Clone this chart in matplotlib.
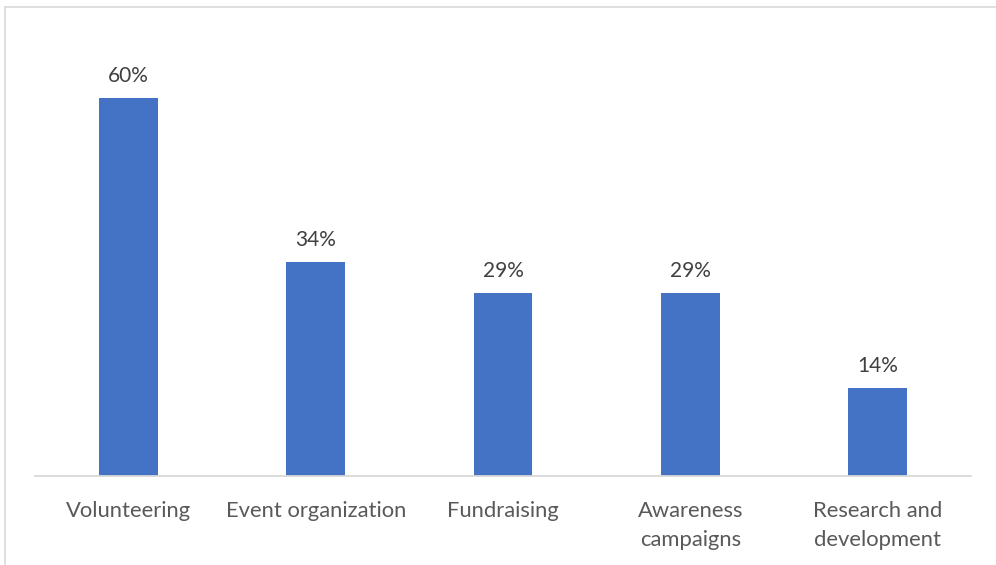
import matplotlib
matplotlib.use('Agg')
import matplotlib.pyplot as plt
from matplotlib.lines import Line2D

categories = ['Volunteering', 'Event organization', 'Fundraising', 'Awareness\ncampaigns', 'Research and\ndevelopment']
shares = [60, 34, 29, 29, 14]
value_labels = ['60%', '34%', '29%', '29%', '14%']

plt.rcParams['font.family'] = ['Lato', 'DejaVu Sans']

W, H = 996, 565
fig = plt.figure(figsize=(W / 100, H / 100), dpi=100)

# chart area border (only the top and left edges fall inside the image)
border = '#d9d9d9'
fig.add_artist(Line2D([5 / W, 1], [1 - 7 / H, 1 - 7 / H], color=border, lw=1.2))
fig.add_artist(Line2D([5 / W, 5 / W], [0, 1 - 7 / H], color=border, lw=1.2))

ax = fig.add_axes([35 / W, (H - 476) / H, (971 - 35) / W, (476 - 35) / H])
x = range(len(categories))
bars = ax.bar(x, shares, width=0.315, color='#4472c4')

ax.set_xlim(-0.5, len(categories) - 0.5)
ax.set_ylim(0, 70)
ax.set_yticks([])
ax.set_xticks(list(x))
ax.set_xticklabels(categories, fontsize=15.8, color='#595959', linespacing=1.55)
ax.tick_params(axis='x', length=0, pad=18)

for s in ['top', 'right', 'left']:
    ax.spines[s].set_visible(False)
ax.spines['bottom'].set_color('#d9d9d9')
ax.spines['bottom'].set_linewidth(1.3)

for b, lab in zip(bars, value_labels):
    ax.annotate(lab, (b.get_x() + b.get_width() / 2, b.get_height()),
                xytext=(0, 16), textcoords='offset points',
                ha='center', va='center', fontsize=15, color='#404040')

fig.savefig('out.png', dpi=100)
